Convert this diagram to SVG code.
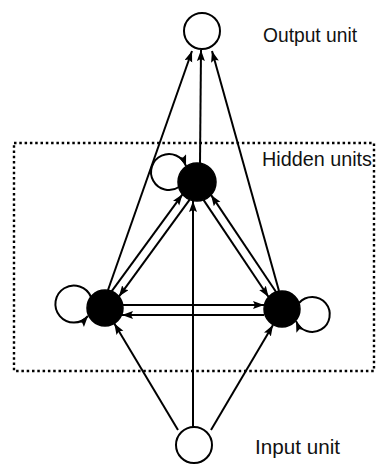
<svg xmlns="http://www.w3.org/2000/svg" width="377" height="464" viewBox="0 0 377 464">
<style>
.edge{fill:none;stroke:#000;stroke-width:2;marker-end:url(#ah)}
.open{fill:#fff;stroke:#000;stroke-width:2}
.hid{fill:#000;stroke:#000;stroke-width:1.5}
.lbl{font-family:"Liberation Sans",Arial,sans-serif;font-size:20px;fill:#111}
</style>
<defs>
<marker id="ah" markerUnits="userSpaceOnUse" markerWidth="13" markerHeight="9" refX="11" refY="4" orient="auto">
<path d="M0,0 L11,4 L0,8 L2,4 Z" fill="#000"/>
</marker>
</defs>
<rect x="14" y="143" width="360" height="228" fill="none" stroke="#000" stroke-width="2.4" stroke-dasharray="2.5,2.8"/>
<g id="connectors">
<path class="edge" d="M108,290 L192,51"/>
<path class="edge" d="M200,163 L201,50"/>
<path class="edge" d="M279,291 L212,51"/>
<path class="edge" d="M111.6,291.3 L182.5,194.3"/>
<path class="edge" d="M189.7,199.6 L118.9,296.6"/>
<path class="edge" d="M203.5,199.9 L268.6,297"/>
<path class="edge" d="M276.1,292 L211,194.9"/>
<path class="edge" d="M123,305 L264,305"/>
<path class="edge" d="M264,315 L122,315"/>
<path class="edge" d="M193,427 L193,201"/>
<path class="edge" d="M178,430 L114.3,323.4"/>
<path class="edge" d="M211,430 L273,325"/>
<path class="edge" d="M179,187 A18,18 0 1 1 186,166"/>
<path class="edge" d="M91,297 A18.5,18.5 0 1 0 88,316"/>
<path class="edge" d="M299,303 A17.5,17.5 0 1 1 296,321"/>
</g>
<g id="output"><circle class="open" cx="202" cy="31" r="18"/></g>
<g id="hidden-top"><circle class="hid" cx="197" cy="182" r="19"/></g>
<g id="hidden-left"><circle class="hid" cx="105" cy="308" r="18"/></g>
<g id="hidden-right"><circle class="hid" cx="282" cy="309" r="18"/></g>
<g id="input"><circle class="open" cx="194" cy="445" r="18"/></g>
<text class="lbl" x="263" y="42" textLength="94" lengthAdjust="spacingAndGlyphs">Output unit</text>
<text class="lbl" x="262" y="166" textLength="110" lengthAdjust="spacingAndGlyphs">Hidden units</text>
<text class="lbl" x="255" y="454" textLength="85" lengthAdjust="spacingAndGlyphs">Input unit</text>
</svg>
